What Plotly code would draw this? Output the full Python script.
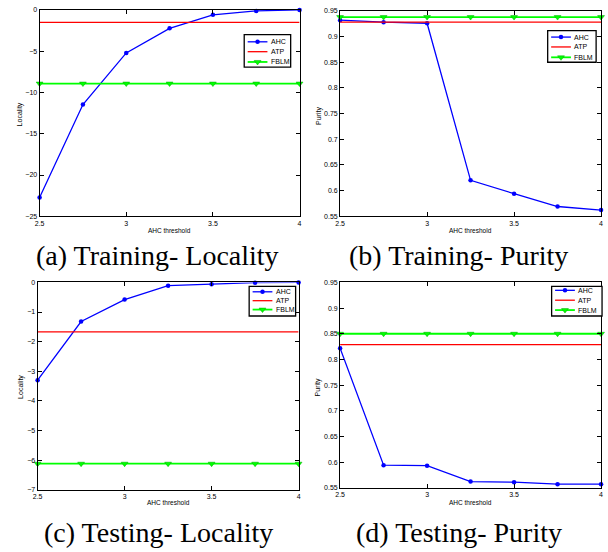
import plotly.graph_objects as go

thresholds = [2.5, 2.75, 3.0, 3.25, 3.5, 3.75, 4.0]

# (a) Training - Locality
train_loc_ahc = [-22.73, -11.46, -5.21, -2.23, -0.60, -0.12, 0.0]
train_loc_atp = -1.51
train_loc_fblm = -8.92

# (b) Training - Purity
train_pur_ahc = [0.932, 0.928, 0.926, 0.620, 0.594, 0.569, 0.562]
train_pur_atp = 0.928
train_pur_fblm = 0.938

# (c) Testing - Locality
test_loc_ahc = [-3.30, -1.32, -0.58, -0.11, -0.06, -0.01, 0.0]
test_loc_atp = -1.67
test_loc_fblm = -6.12

# (d) Testing - Purity
test_pur_ahc = [0.822, 0.594, 0.593, 0.562, 0.561, 0.557, 0.557]
test_pur_atp = 0.829
test_pur_fblm = 0.850

series_names = ["AHC", "ATP", "FBLM"]
captions = ["(a) Training- Locality", "(b) Training- Purity",
            "(c) Testing- Locality", "(d) Testing- Purity"]
ylabels = ["Locality", "Purity", "Locality", "Purity"]
xlabel = "AHC threshold"
xtick_vals = [2.5, 3, 3.5, 4]
xtick_text = ["2.5", "3", "3.5", "4"]

W, H = 608, 552
panels = [
    dict(ahc=train_loc_ahc, atp=train_loc_atp, fblm=train_loc_fblm,
         box=(35, 6, 298, 215), yr=[-25, 0], dt=5,
         leg=(242, 31, 289, 64), legrows=(38.3, 48.3, 58.7),
         xt=(166.5, 229), ytl=(15, 112), cap=(154, 255)),
    dict(ahc=train_pur_ahc, atp=train_pur_atp, fblm=train_pur_fblm,
         box=(339, 7, 603, 215), yr=[0.55, 0.95], dt=0.05,
         leg=(549, 27, 598, 59), legrows=(33.5, 43.5, 54),
         xt=(471, 229), ytl=(317, 113), cap=(459, 255)),
    dict(ahc=test_loc_ahc, atp=test_loc_atp, fblm=test_loc_fblm,
         box=(33, 282, 297, 492), yr=[-7, 0], dt=1,
         leg=(247, 286, 294, 316), legrows=(291.5, 300.5, 309.5),
         xt=(165, 505), ytl=(16, 388), cap=(155, 535)),
    dict(ahc=test_pur_ahc, atp=test_pur_atp, fblm=test_pur_fblm,
         box=(339, 282, 603, 490), yr=[0.55, 0.95], dt=0.05,
         leg=(553, 286, 604, 316), legrows=(290, 300, 310),
         xt=(471, 505), ytl=(317, 388), cap=(459, 535)),
]

BLUE = "rgb(0,0,255)"
RED = "rgb(255,0,0)"
GREEN = "rgb(0,255,0)"
FONT = "Liberation Sans"
styles = [
    dict(line=dict(color=BLUE, width=1.3), marker=dict(symbol="circle", size=4.5, color=BLUE)),
    dict(line=dict(color=RED, width=1.3), marker=None),
    dict(line=dict(color=GREEN, width=1.8),
         marker=dict(symbol="triangle-down", size=6, color=GREEN,
                     line=dict(color="rgb(0,170,0)", width=0.5))),
]

fig = go.Figure()
layout = dict(
    width=W, height=H, margin=dict(l=0, r=0, t=0, b=0),
    paper_bgcolor="white", plot_bgcolor="rgba(0,0,0,0)", showlegend=False,
    font=dict(family=FONT, size=7, color="black"),
)
annotations = []
shapes = []
OV_X, OV_Y = "x5", "y5"

for i, p in enumerate(panels):
    n = i + 1
    xa = "x" if n == 1 else f"x{n}"
    ya = "y" if n == 1 else f"y{n}"
    ys = [p["ahc"], [p["atp"]] * len(thresholds), [p["fblm"]] * len(thresholds)]
    for k in range(3):
        st = styles[k]
        fig.add_trace(go.Scatter(x=thresholds, y=ys[k],
                                 mode="lines+markers" if st["marker"] else "lines",
                                 name=series_names[k], line=st["line"],
                                 marker=st["marker"] if st["marker"] else None,
                                 xaxis=xa, yaxis=ya, cliponaxis=False, hoverinfo="x+y+name"))
    x0, y0, x1, y1 = p["box"]
    axkey_x = "xaxis" if n == 1 else f"xaxis{n}"
    axkey_y = "yaxis" if n == 1 else f"yaxis{n}"
    common = dict(showgrid=False, zeroline=False, showline=True, linecolor="black",
                  linewidth=1, mirror="allticks", ticks="inside", ticklen=4,
                  tickcolor="black", tickfont=dict(size=7, family=FONT))
    layout[axkey_x] = dict(domain=[x0 / W, x1 / W], anchor=ya, range=[2.5, 4],
                           tickvals=xtick_vals, ticktext=xtick_text, **common)
    layout[axkey_y] = dict(domain=[1 - y1 / H, 1 - y0 / H], anchor=xa, range=p["yr"],
                           dtick=p["dt"], tick0=p["yr"][0], **common)

    # axis titles
    tx, ty = p["xt"]
    annotations.append(dict(text=xlabel, x=tx, y=ty, xref=OV_X, yref=OV_Y, showarrow=False,
                            xanchor="center", yanchor="middle",
                            font=dict(size=6.5, family=FONT, color="black")))
    lx, lyc = p["ytl"]
    annotations.append(dict(text=ylabels[i], x=lx, y=lyc, xref=OV_X, yref=OV_Y, showarrow=False,
                            textangle=-90, xanchor="center", yanchor="middle",
                            font=dict(size=7, family=FONT, color="black")))
    # caption
    cx, cy = p["cap"]
    annotations.append(dict(text=captions[i], x=cx, y=cy, xref=OV_X, yref=OV_Y,
                            showarrow=False, xanchor="center", yanchor="middle",
                            font=dict(family="Liberation Serif", size=28, color="black")))
    # legend box
    bx0, by0, bx1, by1 = p["leg"]
    shapes.append(dict(type="rect", xref=OV_X, yref=OV_Y, x0=bx0, y0=by0, x1=bx1, y1=by1,
                       line=dict(color="black", width=1.3), fillcolor="white", layer="below"))
    for k in range(3):
        ry = p["legrows"][k]
        sx0, sx1 = bx0 + 3.5, bx0 + 23.5
        st = styles[k]
        fig.add_trace(go.Scatter(x=[sx0, sx1], y=[ry, ry], mode="lines", line=st["line"],
                                 xaxis=OV_X, yaxis=OV_Y, hoverinfo="skip", showlegend=False))
        if st["marker"]:
            fig.add_trace(go.Scatter(x=[(sx0 + sx1) / 2], y=[ry], mode="markers",
                                     marker=st["marker"], xaxis=OV_X, yaxis=OV_Y,
                                     hoverinfo="skip", showlegend=False))
        annotations.append(dict(text=series_names[k], x=sx1 + 1.5, y=ry, xref=OV_X, yref=OV_Y,
                                showarrow=False, xanchor="left", yanchor="middle",
                                font=dict(size=7, family=FONT, color="black")))

layout["xaxis5"] = dict(domain=[0, 1], range=[0, W], visible=False, anchor="y5", fixedrange=True)
layout["yaxis5"] = dict(domain=[0, 1], range=[H, 0], visible=False, anchor="x5", fixedrange=True)
layout["annotations"] = annotations
layout["shapes"] = shapes
fig.update_layout(**layout)
fig.write_html("out.html", config={"displayModeBar": False},
               post_script="document.body.style.margin='0';document.body.style.padding='0';")
